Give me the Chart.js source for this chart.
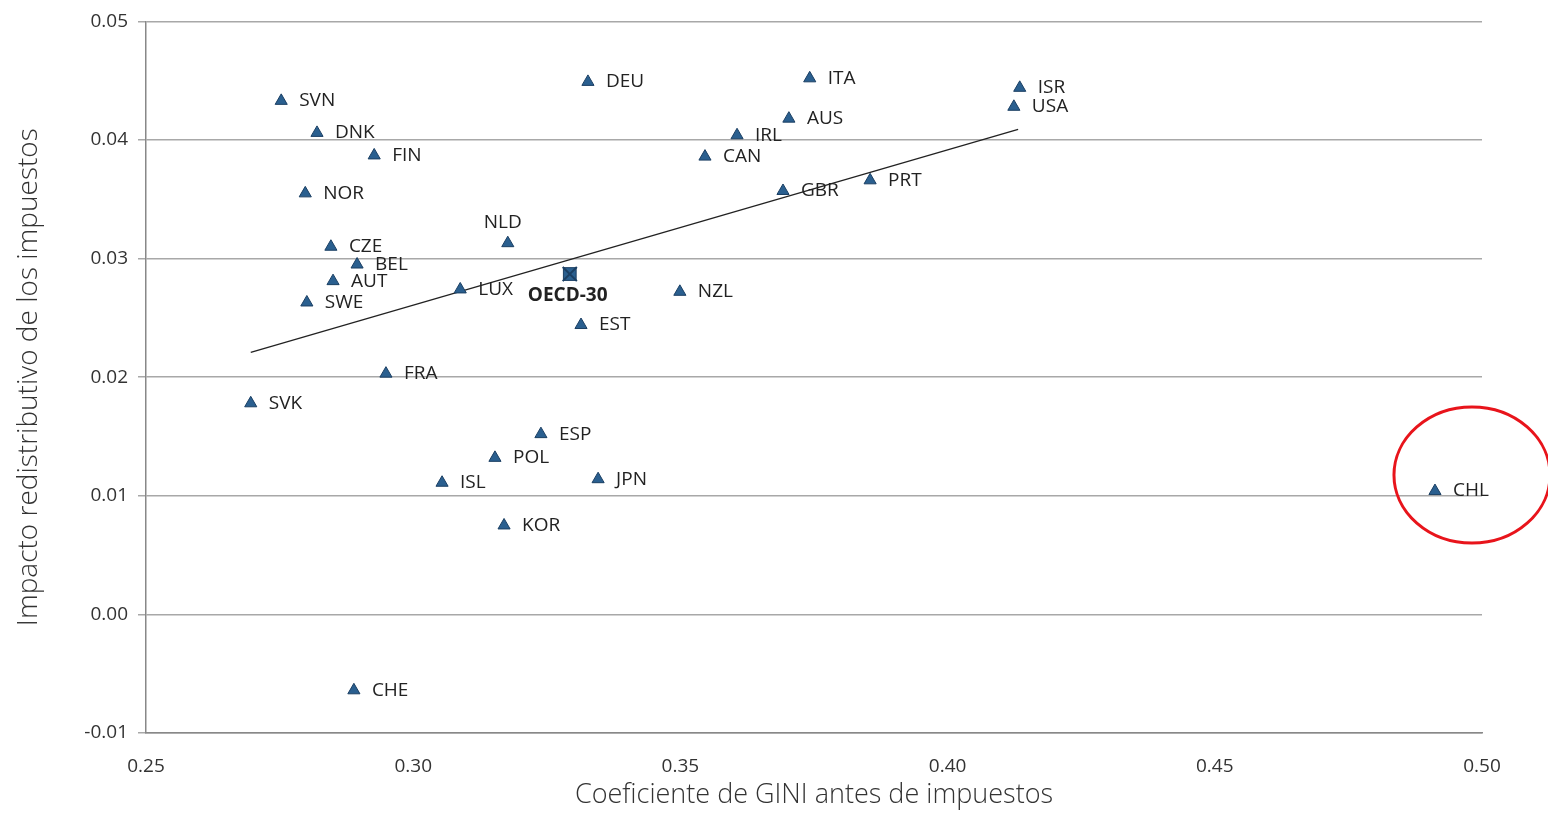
<!DOCTYPE html>
<html>
<head>
<meta charset="utf-8">
<script src="https://cdn.jsdelivr.net/npm/chart.js@4"></script>
<style>
  html, body { margin: 0; padding: 0; background: #fff; }
  #wrap { width: 1548px; height: 816px; }
</style>
</head>
<body>
<div id="wrap"><canvas id="chart"></canvas></div>
<script>
// países OCDE: Gini antes de impuestos vs impacto redistributivo
const countries = ['SVN','DNK','FIN','NOR','CZE','BEL','AUT','SWE','SVK','FRA','CHE','NLD','LUX','EST','DEU','ESP','POL','ISL','JPN','KOR','NZL','CAN','IRL','GBR','AUS','ITA','PRT','ISR','USA','CHL'];
const giniValues = [0.2753,0.2820,0.2927,0.2798,0.2846,0.2895,0.2850,0.2801,0.2696,0.2949,0.2889,0.3177,0.3088,0.3314,0.3327,0.3239,0.3153,0.3054,0.3346,0.3170,0.3499,0.3546,0.3606,0.3692,0.3703,0.3742,0.3855,0.4135,0.4124,0.4912];
const impactValues = [0.0433,0.0406,0.0387,0.0355,0.0310,0.0295,0.0281,0.0263,0.0178,0.0203,-0.0064,0.0313,0.0274,0.0244,0.0449,0.0152,0.0132,0.0111,0.0114,0.0075,0.0272,0.0386,0.0404,0.0357,0.0418,0.0452,0.0366,0.0444,0.0428,0.0104];
const oecdGini = [0.3293];
const oecdImpact = [0.0287];
const trendGini = [0.2696, 0.4132];
const trendImpact = [0.0221, 0.0409];
const xTicks = [0.25,0.30,0.35,0.40,0.45,0.50];

const points = giniValues.map((g, i) => ({x: g, y: impactValues[i]}));

const labelPlugin = {
    id: 'labels',
    afterDatasetsDraw(chart) {
        const ctx = chart.ctx;
        const meta = chart.getDatasetMeta(0);
        ctx.save();
        ctx.font = '19px "Open Sans", sans-serif';
        ctx.fillStyle = '#222';
        ctx.textBaseline = 'middle';
        meta.data.forEach((el, i) => {
            let dx = 18, dy = 0;
            if (countries[i] === 'NLD') { dx = -24; dy = -21; }
            ctx.fillText(countries[i], el.x + dx, el.y + dy);
        });
        const o = chart.getDatasetMeta(1).data[0];
        ctx.font = 'bold 19px "Open Sans", sans-serif';
        ctx.fillText('OECD-30', o.x - 42, o.y + 22);
        // círculo rojo alrededor de CHL
        const c = meta.data[countries.indexOf('CHL')];
        ctx.beginPath();
        ctx.ellipse(c.x + 37, c.y - 16, 78, 68, 0, 0, Math.PI * 2);
        ctx.strokeStyle = '#e8141b';
        ctx.lineWidth = 3;
        ctx.stroke();
        ctx.restore();
    }
};

new Chart(document.getElementById('chart'), {
    type: 'scatter',
    data: {
        datasets: [
            {
                data: points,
                pointStyle: 'triangle',
                pointRadius: 7,
                backgroundColor: '#2a5f8f',
                borderColor: '#1b3f63',
                borderWidth: 1
            },
            {
                data: oecdGini.map((g, i) => ({x: g, y: oecdImpact[i]})),
                pointStyle: 'crossRot',
                pointRadius: 10,
                borderColor: '#1b3f63',
                borderWidth: 2
            },
            {
                data: oecdGini.map((g, i) => ({x: g, y: oecdImpact[i]})),
                pointStyle: 'rect',
                pointRadius: 9,
                backgroundColor: '#2a5f8f',
                borderColor: '#1b3f63',
                borderWidth: 1
            },
            {
                type: 'line',
                data: trendGini.map((g, i) => ({x: g, y: trendImpact[i]})),
                borderColor: '#222',
                borderWidth: 1.3,
                pointRadius: 0,
                showLine: true
            }
        ]
    },
    options: {
        responsive: true,
        maintainAspectRatio: false,
        animation: false,
        layout: { padding: { top: 14, right: 66, left: 8, bottom: 0 } },
        plugins: { legend: { display: false }, tooltip: { enabled: false } },
        scales: {
            x: {
                type: 'linear', min: 0.25, max: 0.50,
                afterBuildTicks: axis => { axis.ticks = xTicks.map(v => ({value: v})); },
                afterFit: axis => { axis.height = 83; },
                grid: { display: false, drawTicks: true },
                border: { color: '#888', width: 1.5 },
                ticks: { color: '#333', font: { size: 19, family: '"Open Sans", sans-serif' }, callback: v => v.toFixed(2), padding: 14 },
                title: { display: true, text: 'Coeficiente de GINI antes de impuestos', color: '#333', font: { size: 27, family: '"Open Sans", sans-serif', weight: '300' }, padding: { top: 0 } }
            },
            y: {
                min: -0.01, max: 0.05,
                afterFit: axis => { axis.width = 138; },
                grid: { color: '#a8a8a8', lineWidth: 1.5, drawTicks: true, tickLength: 8 },
                border: { color: '#888', width: 1.5 },
                ticks: { stepSize: 0.01, color: '#333', font: { size: 19, family: '"Open Sans", sans-serif' }, callback: v => v.toFixed(2), padding: 10 },
                title: { display: true, text: 'Impacto redistributivo de los impuestos', color: '#333', font: { size: 28, family: '"Open Sans", sans-serif', weight: '300' } }
            }
        }
    },
    plugins: [labelPlugin]
});
</script>
</body>
</html>
